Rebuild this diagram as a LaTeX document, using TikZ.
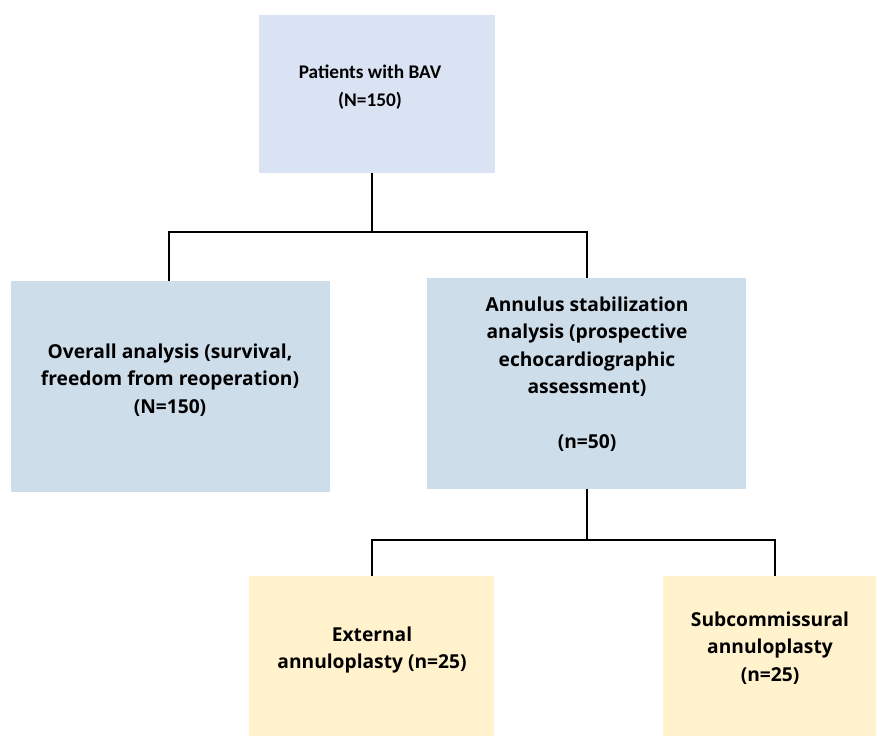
\documentclass[tikz,border=0pt]{standalone}
\usepackage{fontspec}
\setmainfont{Open Sans}
\newfontfamily\calib{Carlito}
\definecolor{topblue}{RGB}{218,227,243}
\definecolor{midblue}{RGB}{205,221,234}
\definecolor{lightyel}{RGB}{255,242,204}
\begin{document}
\begin{tikzpicture}[x=1pt,y=-1pt,
  box/.style={draw=none,rectangle,inner sep=0pt,anchor=north west},
  lbl/.style={align=center,font=\bfseries\fontsize{19.2}{27.5}\selectfont,inner sep=0pt},
  conn/.style={line width=2.3pt,black}]
\useasboundingbox (0,0) rectangle (877,737);
\fill[white] (0,0) rectangle (877,737);
% boxes
\node[box,fill=topblue,minimum width=236pt,minimum height=158pt] (top) at (259,15) {};
\node[box,fill=midblue,minimum width=319pt,minimum height=211pt] (left) at (11,281) {};
\node[box,fill=midblue,minimum width=319pt,minimum height=211pt] (right) at (427,278) {};
\node[box,fill=lightyel,minimum width=245pt,minimum height=160pt] (bl) at (249,576) {};
\node[box,fill=lightyel,minimum width=213pt,minimum height=160pt] (br) at (663,576) {};
% labels
\node[lbl,font=\calib\bfseries\fontsize{19.3}{28}\selectfont] (topt) at (370,87) {Patients with BAV\\(N=150)};
\node[lbl] (leftt) at (170,380) {Overall analysis (survival,\\freedom from reoperation)\\(N=150)};
\node[lbl] (rightt) at (587,374) {Annulus stabilization\\analysis (prospective\\echocardiographic\\assessment)\\[27.5pt](n=50)};
\node[lbl] (blt) at (372,650) {External\\annuloplasty (n=25)};
\node[lbl] (brt) at (770,648) {Subcommissural\\annuloplasty\\(n=25)};
% connectors
\coordinate (j1) at (372,232);
\coordinate (j2) at (587,540);
\coordinate (lx) at (169,0);
\coordinate (brx) at (775,0);
\draw[conn] (j1 |- top.south) -- (j1);
\draw[conn] (lx |- left.north) |- (j1) -| (j2 |- right.north);
\draw[conn] (j2 |- right.south) -- (j2);
\draw[conn] (j1 |- bl.north) |- (j2) -| (brx |- br.north);
\end{tikzpicture}
\end{document}
